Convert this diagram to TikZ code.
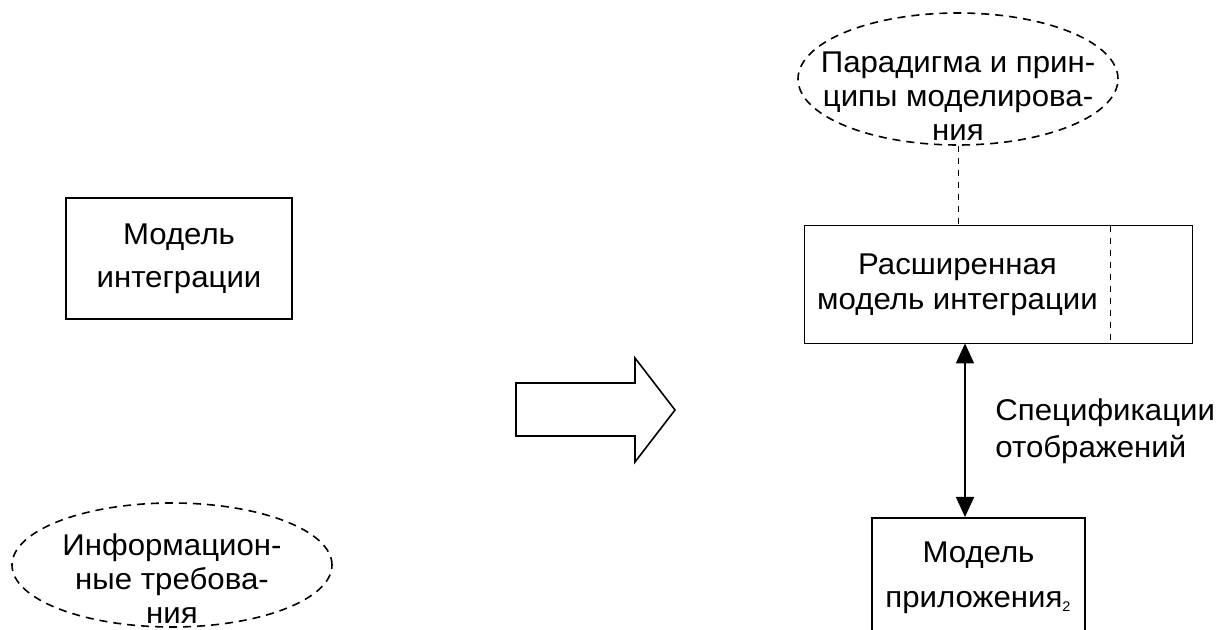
\documentclass[tikz,border=0pt]{standalone}
\usepackage{fontspec}
\setmainfont{Liberation Sans}[FakeStretch=1.04]
\usetikzlibrary{arrows.meta}
\usetikzlibrary{shapes.geometric}
\tikzset{box/.style = {draw, line width=0.8pt, align=center, inner sep=0pt},
         cloud/.style = {draw, ellipse, dash pattern=on 4pt off 3pt, line width=0.8pt, inner sep=0pt},
         txt/.style = {align=center, inner sep=0pt, font=\fontsize{15}{17}\selectfont},
         link/.style = {{Triangle[length=10pt, width=9pt]}-{Triangle[length=10pt, width=9pt]}, line width=0.8pt}}

\begin{document}
\begin{tikzpicture}[x=0.5pt, y=-0.5pt]
      \useasboundingbox (0, 0) rectangle (1217, 630);
      \clip (0, 0) rectangle (1217, 630);

      \node [box, minimum width=113pt, minimum height=60.5pt, font=\fontsize{15}{21.5}\selectfont] (intmodel) at (179, 258.5) {Модель\\интеграции};

      \node [cloud, minimum width=160pt, minimum height=62pt] (inforeq) at (172, 565) {};
      \node [txt] (inforeqtext) at (172, 579) {Информацион-\\ные требова-\\ния};

      \draw [line width=0.8pt] (516, 383) -- (635, 383) -- (635, 358) -- (675, 410) -- (635, 462) -- (635, 436) -- (516, 436) -- cycle;

      \node [cloud, minimum width=160pt, minimum height=66pt] (paradigm) at (958, 79) {};
      \node [txt] (paradigmtext) at (958, 96) {Парадигма и прин-\\ципы моделирова-\\ния};

      \node [txt, minimum width=152.5pt, minimum height=58.5pt, font=\fontsize{15}{17.5}\selectfont] (extmodel) at (957.5, 284.5) {Расширенная\\модель интеграции};
      \draw [line width=0.8pt] (extmodel.south west) rectangle ([xshift=41pt]extmodel.north east);
      \draw [dashed, line width=0.7pt] (extmodel.north east) -- (extmodel.south east);
      \draw [dashed, line width=0.5pt] (paradigm.south) -- (paradigm.south |- extmodel.north);

      \node [box, anchor=north, minimum width=106.5pt, minimum height=60pt, font=\fontsize{15}{22.5}\selectfont] (appmodel) at (978.5, 517) {Модель\\приложения\textsubscript{\scriptsize 2}};
      \draw [link] ([xshift=3.75pt]extmodel.south) -- ([xshift=3.75pt]extmodel.south |- appmodel.north);

      \node [txt, anchor=west, align=left, font=\fontsize{15}{18.5}\selectfont] (mapspec) at (995, 431) {Спецификации\\отображений};
\end{tikzpicture}
\end{document}
